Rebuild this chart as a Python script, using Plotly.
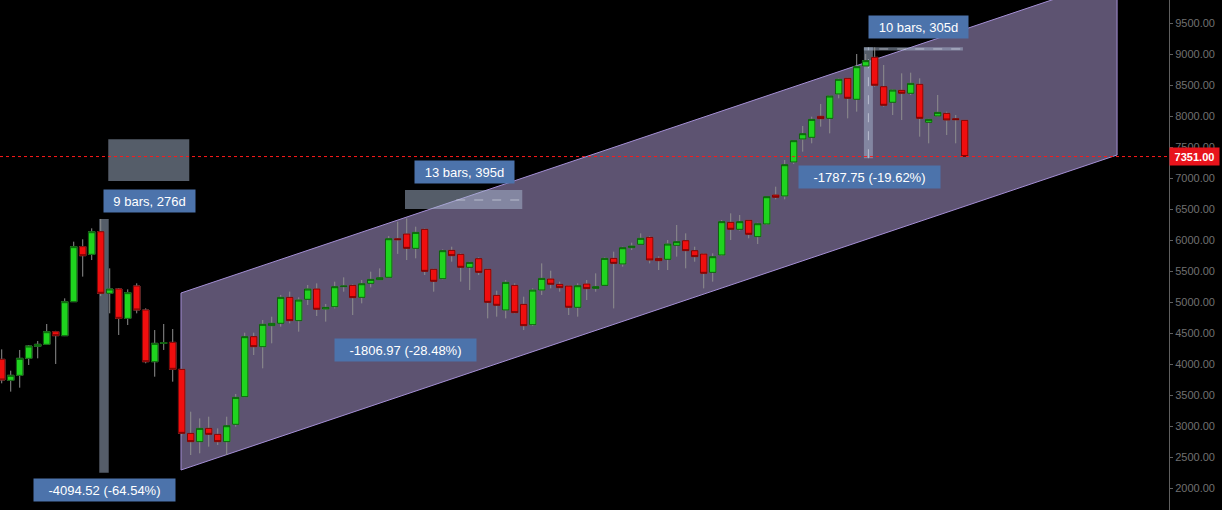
import plotly.graph_objects as go

# ---------------- data ----------------
bar_index = list(range(108))
opens = [4080, 3741, 3822, 4096, 4290, 4322, 4526, 4462, 5010, 5898,
         5774, 6139, 5145, 5215, 4741, 5263, 4876, 4042, 4338, 4354,
         3919, 2886, 2752, 2967, 2870, 2752, 3032, 3478, 4446, 4284,
         4623, 4661, 5080, 4704, 5048, 5215, 4892, 4929, 5252, 5273,
         5080, 5306, 5365, 5403, 6026, 6102, 5870, 6177, 5532, 5381,
         5838, 5774, 5564, 5704, 5532, 5112, 4876, 5273, 4967, 4639,
         5198, 5376, 5290, 5263, 4919, 5295, 5225, 5273, 5709, 5618,
         5881, 5935, 6048, 5709, 5693, 5919, 5994, 5833, 5779, 5483,
         5763, 6290, 6177, 6322, 6059, 6263, 6731, 6715, 7263, 7634,
         7661, 8000, 7967, 8360, 8613, 8274, 8812, 8951, 8478, 8226,
         8419, 8371, 8516, 7903, 8005, 8048, 7962, 7935]
highs = [4241, 3897, 4231, 4311, 4376, 4650, 4540, 5064, 5978, 6016,
         6193, 6344, 5548, 5230, 5209, 5306, 4903, 4553, 4650, 4569,
         3930, 3236, 3128, 3155, 2967, 3155, 3521, 4510, 4510, 4715,
         4768, 5118, 5172, 5080, 5279, 5306, 4973, 5333, 5403, 5290,
         5360, 5494, 5548, 6069, 6300, 6354, 6220, 6190, 5540, 5854,
         5897, 5790, 5655, 5725, 5540, 5187, 5360, 5306, 5091, 5225,
         5628, 5510, 5333, 5270, 5306, 5360, 5467, 5725, 5817, 5897,
         5962, 6112, 6069, 5740, 6005, 6247, 6112, 5897, 5790, 5790,
         6327, 6435, 6408, 6327, 6284, 6715, 6865, 7295, 7618, 7844,
         7994, 8199, 8340, 8610, 8620, 9005, 9005, 9112, 8828, 8435,
         8693, 8704, 8613, 7960, 8344, 8075, 8021, 7940]
lows = [3693, 3559, 3623, 3989, 4096, 4311, 4005, 4455, 5005, 5414,
        5682, 5100, 4822, 4473, 4634, 4822, 4016, 3800, 4231, 3720,
        2850, 2537, 2564, 2671, 2698, 2537, 2994, 3470, 4150, 3935,
        4338, 4607, 4661, 4526, 4957, 4779, 4688, 4902, 5171, 4795,
        4983, 5241, 5360, 5400, 5780, 5682, 5709, 5440, 5171, 5370,
        5655, 5333, 5198, 5440, 4741, 4768, 4741, 4822, 4553, 4617,
        5118, 5225, 5171, 4795, 4768, 5037, 5171, 5263, 4902, 5575,
        5843, 5924, 5628, 5521, 5521, 5736, 5548, 5655, 5225, 5333,
        5747, 6005, 6155, 6032, 5940, 6247, 6661, 6661, 7231, 7430,
        7564, 7833, 7725, 8290, 7967, 8075, 8801, 8478, 8156, 8021,
        7940, 8344, 7672, 7564, 7994, 7699, 7564, 7351]
closes = [3747, 3822, 4096, 4295, 4322, 4526, 4462, 5010, 5898, 5752,
          6139, 5145, 5215, 4741, 5156, 4876, 4042, 4338, 4349, 3919,
          2886, 2752, 2967, 2870, 2752, 3010, 3467, 4446, 4284, 4645,
          4661, 5080, 4704, 5037, 5215, 4887, 4919, 5252, 5263, 5075,
          5300, 5370, 5397, 6026, 6010, 5870, 6128, 5499, 5338, 5833,
          5752, 5564, 5644, 5483, 4999, 4951, 5322, 4833, 4623, 5198,
          5386, 5290, 5236, 4919, 5268, 5220, 5252, 5709, 5628, 5881,
          5908, 6032, 5682, 5671, 5940, 5978, 5833, 5736, 5467, 5736,
          6301, 6177, 6301, 6096, 6268, 6704, 6693, 7220, 7607, 7720,
          7951, 7962, 8328, 8597, 8290, 8801, 8898, 8500, 8177, 8424,
          8371, 8532, 7967, 7951, 8064, 7940, 7946, 7351]
last_price = 7351

y_ticks = list(range(2000, 10000, 500))

# measurement labels (text as drawn on the chart)
label_texts = ["9 bars, 276d", "-4094.52 (-64.54%)", "13 bars, 395d",
               "-1806.97 (-28.48%)", "10 bars, 305d", "-1787.75 (-19.62%)"]

# ---------------- drawing geometry (bar index / price) ----------------
channel = [(19.92, 2295), (19.92, 5150), (123.93, 10231), (123.93, 7376)]
label_pos = [(16.42, 6639, 89), (11.42, 1965, 139), (51.42, 7097, 97),
             (44.87, 4231, 139), (101.87, 9441, 97), (96.42, 7029, 139)]

GREEN, GREEN_EDGE = "#1fd41f", "#0c5f0c"
RED, RED_EDGE = "#f00e0e", "#7c0404"
WICK = "#8e8e8e"
MEASURE = "rgba(170,185,210,0.5)"
LABEL_BG = "#4c73ab"

body_hi = [max(o, c) for o, c in zip(opens, closes)]
body_lo = [min(o, c) for o, c in zip(opens, closes)]

fig = go.Figure()
# wicks
fig.add_trace(go.Candlestick(
    x=bar_index, open=opens, high=highs, low=lows, close=closes,
    increasing=dict(line=dict(color=WICK, width=1), fillcolor=WICK),
    decreasing=dict(line=dict(color=WICK, width=1), fillcolor=WICK),
    hoverinfo="skip"))
# bodies
fig.add_trace(go.Candlestick(
    x=bar_index, open=opens, high=body_hi, low=body_lo, close=closes,
    increasing=dict(line=dict(color=GREEN_EDGE, width=1), fillcolor=GREEN),
    decreasing=dict(line=dict(color=RED_EDGE, width=1), fillcolor=RED),
    whiskerwidth=0))

shapes = []
path = "M " + " L ".join(f"{x},{y}" for x, y in channel) + " Z"
shapes.append(dict(type="path", path=path, xref="x", yref="y", layer="below",
                   fillcolor="rgba(170,152,205,0.55)",
                   line=dict(color="#a58fd6", width=1)))
# measure 1
shapes.append(dict(type="rect", xref="x", yref="y", x0=10.84, x1=11.89, y0=2250, y1=6344,
                   fillcolor=MEASURE, line=dict(width=0), layer="below"))
shapes.append(dict(type="rect", xref="x", yref="y", x0=11.84, x1=20.84, y0=6957, y1=7629,
                   fillcolor=MEASURE, line=dict(width=0), layer="below"))
# measure 2
shapes.append(dict(type="rect", xref="x", yref="y", x0=44.81, x1=57.84, y0=6505, y1=6812,
                   fillcolor=MEASURE, line=dict(width=0), layer="below"))
shapes.append(dict(type="line", xref="x", yref="y", x0=50.5, x1=57.8, y0=6650, y1=6650,
                   line=dict(color="rgba(220,225,235,0.6)", width=1, dash="dash"), layer="below"))
# measure 3
shapes.append(dict(type="rect", xref="x", yref="y", x0=95.8, x1=96.8, y0=7324, y1=9112,
                   fillcolor=MEASURE, line=dict(width=0), layer="below"))
shapes.append(dict(type="line", xref="x", yref="y", x0=96.3, x1=96.3, y0=7324, y1=9112,
                   line=dict(color="rgba(220,225,235,0.6)", width=1, dash="dash"), layer="below"))
shapes.append(dict(type="rect", xref="x", yref="y", x0=95.8, x1=106.8, y0=9060, y1=9112,
                   fillcolor=MEASURE, line=dict(width=0), layer="below"))
shapes.append(dict(type="line", xref="x", yref="y", x0=97.5, x1=106.7, y0=9086, y1=9086,
                   line=dict(color="rgba(220,225,235,0.6)", width=1, dash="dash"), layer="below"))
# last price line
shapes.append(dict(type="line", xref="paper", yref="y", x0=0, x1=1, y0=last_price, y1=last_price,
                   line=dict(color="#ff1a1a", width=1, dash="dot"), layer="above"))

annotations = []
for txt, (x, y, w) in zip(label_texts, label_pos):
    annotations.append(dict(x=x, y=y, xref="x", yref="y", text=txt, showarrow=False,
                            width=w, height=20, bgcolor=LABEL_BG,
                            font=dict(family="Liberation Sans", size=13, color="white")))
annotations.append(dict(x=1, y=last_price, xref="paper", yref="y", xanchor="left",
                        text=f"<b>{last_price:.2f}</b>", showarrow=False,
                        width=47, height=15, bgcolor="#e8141c",
                        font=dict(family="Liberation Sans", size=11, color="white")))

fig.update_layout(
    width=1222, height=510,
    margin=dict(l=0, r=53, t=0, b=0),
    paper_bgcolor="#000000", plot_bgcolor="#000000",
    showlegend=False,
    boxgap=0.15, boxgroupgap=0.15,
    xaxis=dict(visible=False, range=[-0.19, 129.7], rangeslider=dict(visible=False)),
    yaxis=dict(side="right", range=[1650, 9876], tickvals=y_ticks, tickformat=".2f",
               showgrid=False, zeroline=False, showline=True, linecolor="#5f5f5f",
               ticks="outside", ticklen=3, tickcolor="#5f5f5f",
               tickfont=dict(family="Liberation Sans", size=11, color="#707070")),
    shapes=shapes, annotations=annotations,
)

fig.write_html("out.html", config={"displayModeBar": False},
               post_script="document.body.style.margin='0';document.body.style.overflow='hidden';document.body.style.background='#000';")
